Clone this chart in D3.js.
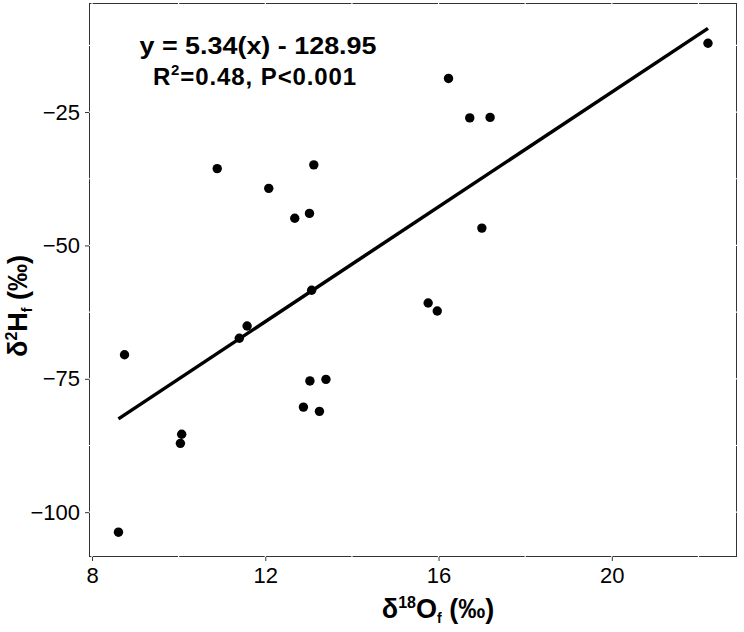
<!DOCTYPE html>
<html>
<head>
<meta charset="utf-8">
<title>d18O vs d2H</title>
<script src="https://d3js.org/d3.v7.min.js"></script>
<style>
  body { margin: 0; background: #fff; }
  text { font-family: "Liberation Sans", Arial, Helvetica, sans-serif; fill: #000; }
</style>
</head>
<body>
<script>

// data
var d18O = [8.61, 8.75, 10.07, 10.04, 10.89, 13.12, 12.08, 12.68, 13.02, 13.07, 11.40, 11.58,
            13.03, 13.40, 12.88, 13.25, 16.23, 16.72, 17.19, 17.00, 15.76, 15.97, 22.22];
var d2H  = [-103.75, -70.5, -85.4, -87.1, -35.6, -34.9, -39.3, -44.9, -44.0, -58.4, -67.4, -65.1,
            -75.4, -75.1, -80.3, -81.1, -18.7, -26.1, -26.0, -46.75, -60.8, -62.3, -12.1];

var xTicks = [8, 12, 16, 20];
var xGrid = [8, 10, 12, 14, 16, 18, 20, 22];
var yTicks = [-100, -75, -50, -25];
var yGrid = [-100, -87.5, -75, -62.5, -50, -37.5, -25, -12.5];
var xDomain = [7.93, 22.89];
var yDomain = [-108.4, -4.56];
var fitLabel = ["y = 5.34(x) - 128.95", "R", "2", "=0.48, P<0.001"];

// panel position
var W = 744, H = 632;
var pLeft = 89, pRight = 737, pTop = 3, pBottom = 557;

var svg = d3.select("body").append("svg")
    .attr("width", W)
    .attr("height", H);

var x = d3.scaleLinear().domain(xDomain).range([pLeft, pRight]);
var y = d3.scaleLinear().domain(yDomain).range([pBottom, pTop]);

// panel border
svg.append("rect")
    .attr("x", pLeft + 0.5).attr("y", pTop + 0.5)
    .attr("width", pRight - pLeft - 1).attr("height", pBottom - pTop - 1)
    .attr("fill", "#fff").attr("stroke", "#333").attr("stroke-width", 1);

// white grid lines (only visible where they cut the border)
svg.append("g").selectAll("line").data(xGrid).enter().append("line")
    .attr("x1", function(d) { return x(d); }).attr("x2", function(d) { return x(d); })
    .attr("y1", pTop).attr("y2", pBottom)
    .attr("stroke", "#fff").attr("stroke-width", 1.2);
svg.append("g").selectAll("line").data(yGrid).enter().append("line")
    .attr("y1", function(d) { return y(d); }).attr("y2", function(d) { return y(d); })
    .attr("x1", pLeft).attr("x2", pRight)
    .attr("stroke", "#fff").attr("stroke-width", 1.2);

// axes
var xAxis = svg.append("g")
    .attr("transform", "translate(0," + pBottom + ")")
    .call(d3.axisBottom(x).tickValues(xTicks).tickFormat(d3.format("d")).tickSize(4).tickPadding(6));
var yAxis = svg.append("g")
    .attr("transform", "translate(" + pLeft + ",0)")
    .call(d3.axisLeft(y).tickValues(yTicks).tickFormat(function(d) { return "\u2212" + Math.abs(d); }).tickSize(4).tickPadding(5));
[xAxis, yAxis].forEach(function(a) {
  a.select(".domain").remove();
  a.selectAll(".tick line").attr("stroke", "#333");
  a.selectAll(".tick text").attr("font-size", 22).attr("fill", "#000")
      .style("font-family", '"Liberation Sans", Arial, sans-serif');
});

// least squares fit from the points
var n = d18O.length;
var mx = d3.mean(d18O), my = d3.mean(d2H);
var sxy = 0, sxx = 0;
for (var i = 0; i < n; i++) {
  sxy += (d18O[i] - mx) * (d2H[i] - my);
  sxx += (d18O[i] - mx) * (d18O[i] - mx);
}
var slope = sxy / sxx, icpt = my - slope * mx;
var xr = d3.extent(d18O);

svg.append("line")
    .attr("x1", x(xr[0])).attr("y1", y(icpt + slope * xr[0]))
    .attr("x2", x(xr[1])).attr("y2", y(icpt + slope * xr[1]))
    .attr("stroke", "#000").attr("stroke-width", 3.5);

// points
svg.append("g").selectAll("circle")
    .data(d18O.map(function(v, i) { return [v, d2H[i]]; }))
    .enter().append("circle")
    .attr("cx", function(d) { return x(d[0]); })
    .attr("cy", function(d) { return y(d[1]); })
    .attr("r", 4.7)
    .attr("fill", "#000");

// equation text
svg.append("text")
    .attr("x", 258).attr("y", 54)
    .attr("text-anchor", "middle")
    .attr("font-size", 24).attr("font-weight", "bold")
    .attr("textLength", 237).attr("lengthAdjust", "spacingAndGlyphs")
    .text(fitLabel[0]);
var t2 = svg.append("text")
    .attr("x", 255).attr("y", 85)
    .attr("text-anchor", "middle")
    .attr("font-size", 24).attr("font-weight", "bold")
    .attr("letter-spacing", 0.9);
t2.append("tspan").text(fitLabel[1]);
t2.append("tspan").attr("font-size", 15).attr("dy", -10).text(fitLabel[2]);
t2.append("tspan").attr("dy", 10).text(fitLabel[3]);

// x title
var xt = svg.append("text")
    .attr("x", 438).attr("y", 618)
    .attr("text-anchor", "middle")
    .attr("font-size", 27).attr("font-weight", "bold");
xt.append("tspan").text("\u03b4");
xt.append("tspan").attr("font-size", 16).attr("dy", -10).text("18");
xt.append("tspan").attr("dy", 10).text("O");
xt.append("tspan").attr("font-size", 14).attr("dy", 5).text("f");
xt.append("tspan").attr("dy", -5).text(" (\u2030)");

// y title
var yt = svg.append("text")
    .attr("transform", "translate(27,306) rotate(-90)")
    .attr("text-anchor", "middle")
    .attr("font-size", 27).attr("font-weight", "bold");
yt.append("tspan").text("\u03b4");
yt.append("tspan").attr("font-size", 16).attr("dy", -10).text("2");
yt.append("tspan").attr("dy", 10).text("H");
yt.append("tspan").attr("font-size", 14).attr("dy", 5).text("f");
yt.append("tspan").attr("dy", -5).text(" (\u2030)");

</script>
</body>
</html>
